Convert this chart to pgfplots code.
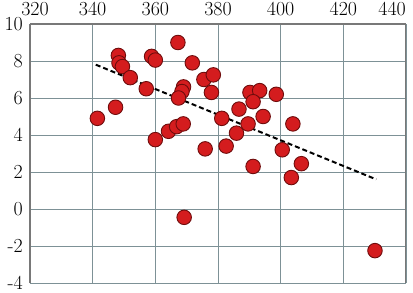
\documentclass[border=0pt]{standalone}
\usepackage{fontspec}
\usepackage{pgfplots}
\pgfplotsset{compat=1.18}
\definecolor{gridc}{RGB}{125,145,150}
\definecolor{framec}{RGB}{120,120,120}
\definecolor{dotfill}{RGB}{212,28,30}
\definecolor{dotedge}{RGB}{110,12,12}
\begin{document}
\begin{tikzpicture}
\begin{axis}[
  name=ax,
  scale only axis,
  width=376bp, height=259bp,
  xmin=320, xmax=440, ymin=-4, ymax=10,
  axis x line*=top,
  axis line style={framec, line width=1.4pt},
  xtick={340,360,...,420},
  extra x ticks={440},
  extra x tick style={grid=major, xticklabel style={anchor=south east, xshift=1pt}},
  ytick={-4,-2,...,10},
  yticklabels={-4,-2,0,2,4,6,8,10},
  xticklabels={340,360,380,400,420},
  extra x tick labels={440},
  major tick length=0pt,
  grid=major,
  major grid style={gridc, line width=0.9pt},
  tick label style={font=\fontsize{20}{24}\selectfont, inner sep=1pt},
  xticklabel style={yshift=7pt},
  yticklabel style={xshift=-6pt},
  clip=false,
]
\addplot[only marks, mark=*, mark size=7.3pt,
  mark options={fill=dotfill, draw=dotedge, line width=0.9pt}] coordinates {
(341.5,4.9) (347.3,5.5) (348.2,8.3) (348.4,7.9) (349.5,7.7) (352,7.1)
(357.1,6.5) (358.8,8.25) (360,8.05) (367.2,9.0) (371.8,7.9) (369,6.6)
(368.5,6.35) (367.4,6.0) (375.5,7.0) (378.5,7.25) (377.9,6.3) (381.2,4.9)
(390.2,6.3) (393.3,6.4) (398.6,6.2) (386.7,5.4) (391.2,5.8) (394.4,5.0)
(389.6,4.6) (385.9,4.1) (403.9,4.6) (360,3.75) (364.2,4.2) (366.8,4.45)
(368.9,4.6) (375.9,3.25) (382.6,3.4) (369.2,-0.45) (391.2,2.3) (400.5,3.2)
(406.6,2.45) (403.4,1.7) (430.1,-2.25)
};
\addplot[black, line width=2pt, dash pattern=on 5pt off 3pt] coordinates {(341,7.8) (430.5,1.6)};
\node[anchor=south, inner sep=1pt, font=\fontsize{20}{24}\selectfont, xshift=5pt, yshift=7pt] at (rel axis cs:0,1) {320};
\end{axis}
\pgfresetboundingbox
\path[use as bounding box] ([xshift=-30bp,yshift=-10bp]ax.south west) rectangle ([xshift=7bp,yshift=24bp]ax.north east);
\end{tikzpicture}
\end{document}
